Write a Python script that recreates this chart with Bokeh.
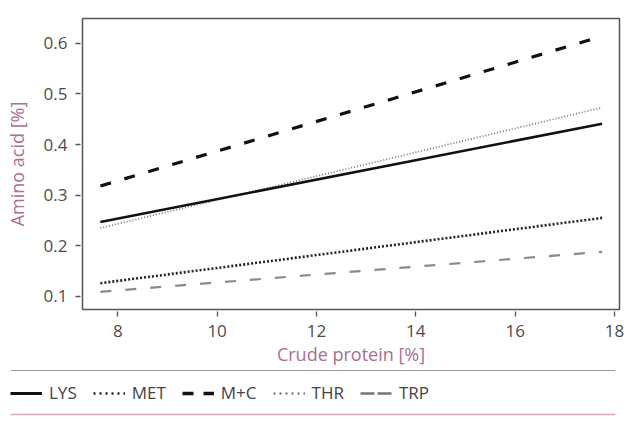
from bokeh.plotting import figure
from bokeh.models import FixedTicker, Legend, LegendItem, Span, Range1d
from bokeh.layouts import column
from bokeh.embed import file_html
from bokeh.resources import INLINE

# ---- data ----
protein = [7.65, 17.75]          # crude protein [%], line start / end
lys = [0.247, 0.441]
met = [0.126, 0.255]
mpc = [0.318, 0.614]
thr = [0.235, 0.473]
trp = [0.109, 0.188]
series_names = ["LYS", "MET", "M+C", "THR", "TRP"]
x_ticks = [8, 10, 12, 14, 16, 18]
y_ticks = [0.1, 0.2, 0.3, 0.4, 0.5, 0.6]

FONT = "Open Sans"
TITLE_COLOR = "#a8708f"
TICK_COLOR = "#4d4d4d"

styles = {
    "LYS": dict(line_color="#111111", line_width=2.6, line_dash="solid"),
    "MET": dict(line_color="#222222", line_width=2.6, line_dash="2 2"),
    "M+C": dict(line_color="#111111", line_width=3.2, line_dash="11 14"),
    "THR": dict(line_color="#707070", line_width=1.7, line_dash="1 2"),
    "TRP": dict(line_color="#8a8a8a", line_width=2.2, line_dash="11 14"),
}
legend_styles = {
    "LYS": dict(line_color="#111111", line_width=3, line_dash="solid"),
    "MET": dict(line_color="#222222", line_width=2.6, line_dash="2 4"),
    "M+C": dict(line_color="#111111", line_width=3.4, line_dash="11 10"),
    "THR": dict(line_color="#666666", line_width=2, line_dash="2 4"),
    "TRP": dict(line_color="#777777", line_width=2.4, line_dash="14 3"),
}
values = {"LYS": lys, "MET": met, "M+C": mpc, "THR": thr, "TRP": trp}

p = figure(width=625, height=368, output_backend="svg", toolbar_location=None,
           x_range=Range1d(7.29, 18.1), y_range=Range1d(0.074, 0.649),
           min_border_left=82, min_border_right=6, min_border_top=18,
           min_border_bottom=58)
p.frame_align = False
p.xgrid.visible = False
p.ygrid.visible = False
p.outline_line_color = "#555555"
p.outline_line_width = 1.5
p.background_fill_color = "white"
p.border_fill_color = "white"

order = ["THR", "LYS", "MET", "M+C", "TRP"]
for name in order:
    p.line(protein, values[name], line_cap="butt", **styles[name])

p.xaxis.ticker = FixedTicker(ticks=x_ticks)
p.yaxis.ticker = FixedTicker(ticks=y_ticks)
p.xaxis.axis_label = "Crude protein [%]"
p.yaxis.axis_label = "Amino acid [%]"
for ax in (p.xaxis, p.yaxis):
    ax.axis_line_color = None
    ax.major_tick_line_color = "#555555"
    ax.major_tick_line_width = 1.3
    ax.major_tick_in = -2
    ax.major_tick_out = 7
    ax.minor_tick_line_color = None
    ax.major_label_text_font = FONT
    ax.major_label_text_font_size = "17px"
    ax.major_label_text_color = TICK_COLOR
    ax.axis_label_text_font = FONT
    ax.axis_label_text_font_size = "18px"
    ax.axis_label_text_font_style = "normal"
    ax.axis_label_text_color = TITLE_COLOR
p.xaxis.major_label_standoff = 8
p.xaxis.axis_label_standoff = 2
p.yaxis.major_label_standoff = 8
p.yaxis.axis_label_standoff = 12

# ---- legend strip below ----
lg = figure(width=625, height=55, output_backend="svg", toolbar_location=None,
            x_range=Range1d(0, 1), y_range=Range1d(0, 55),
            min_border_left=10, min_border_right=10, min_border_top=0,
            min_border_bottom=0)
lg.frame_align = False
lg.axis.visible = False
lg.xgrid.visible = False
lg.ygrid.visible = False
lg.outline_line_color = None
lg.add_layout(Span(location=53, dimension="width", line_color="#a0a0a0", line_width=1.2))
lg.add_layout(Span(location=9, dimension="width", line_color="#d4a9bb", line_width=1.6))

items = []
for name in series_names:
    # same data as the chart; it falls outside this strip's ranges, only the legend swatch shows
    r = lg.line(protein, values[name], **legend_styles[name])
    items.append(LegendItem(label=name, renderers=[r]))
legend = Legend(items=items, orientation="horizontal", location=(0, 19),
                margin=0, padding=0, spacing=16, glyph_width=32, glyph_height=16,
                label_standoff=7, border_line_color=None, background_fill_alpha=0,
                label_text_font=FONT, label_text_font_size="17px",
                label_text_color="#444444")
lg.add_layout(legend)

layout = column(p, lg, spacing=0)
open("out.html", "w").write(file_html(layout, INLINE))
